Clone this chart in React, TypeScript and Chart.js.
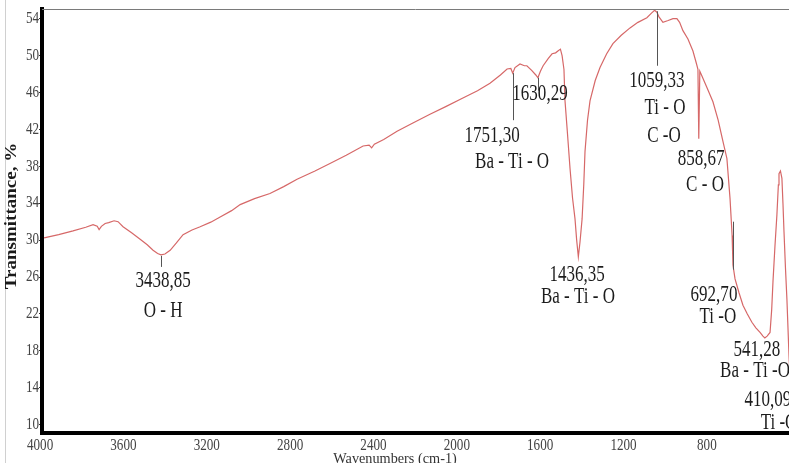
import { useEffect, useRef } from 'react';
import { Chart, registerables } from 'chart.js';

Chart.register(...registerables);

// ---- Spectrum data (wavenumber cm-1, transmittance %) ----
const wavenumbers = [
  4000, 3930, 3861, 3800, 3765, 3745, 3736, 3725, 3707, 3690, 3664, 3645, 3621, 3580, 3539, 3505,
  3477, 3455, 3439, 3420, 3395, 3365, 3333, 3290, 3251, 3200, 3155, 3100, 3059, 2990, 2916, 2850,
  2786, 2700, 2628, 2550, 2469, 2440, 2428, 2415, 2370, 2306, 2230, 2148, 2070, 1990, 1920, 1860,
  1810, 1778, 1760, 1751, 1740, 1716, 1695, 1683, 1660, 1640, 1630, 1618, 1605, 1580, 1562, 1545,
  1534, 1522, 1514, 1505, 1500, 1488, 1476, 1464, 1452, 1444, 1436, 1428, 1418, 1410, 1404, 1392,
  1380, 1355, 1332, 1300, 1270, 1230, 1188, 1150, 1107, 1085, 1070, 1059, 1049, 1030, 1005, 982,
  963, 950, 934, 910, 886, 870, 862, 858, 853, 847, 820, 790, 765, 742, 723, 708,
  698, 694, 684, 665, 646, 625, 603, 584, 564, 550, 541, 530, 516, 508, 502, 492,
  483, 476, 473, 466, 459, 454, 449, 442, 435, 425, 415, 410,
];
const transmittance = [
  30.25, 30.6, 31.0, 31.4, 31.67, 31.5, 31.15, 31.5, 31.8, 31.9, 32.1, 32.0, 31.45, 30.8, 30.1, 29.5,
  28.9, 28.55, 28.4, 28.5, 28.9, 29.7, 30.6, 31.1, 31.45, 31.95, 32.5, 33.2, 33.85, 34.5, 35.05, 35.8,
  36.6, 37.5, 38.3, 39.2, 40.2, 40.3, 40.0, 40.4, 40.9, 41.8, 42.7, 43.65, 44.5, 45.4, 46.2, 47.0,
  47.9, 48.55, 48.6, 48.1, 48.7, 49.1, 48.9, 48.9, 48.4, 47.9, 47.6, 48.3, 48.9, 49.7, 50.2, 50.3,
  50.5, 50.7, 50.0, 48.5, 45.1, 41.5, 37.8, 34.6, 32.3, 30.0, 28.2, 29.8, 32.3, 36.0, 39.6, 43.0,
  45.1, 47.3, 48.7, 50.2, 51.3, 52.2, 53.0, 53.6, 54.1, 54.6, 54.9, 54.7, 54.2, 53.6, 53.8, 54.0,
  54.0, 53.6, 52.7, 51.8, 50.5, 49.2, 48.5, 41.0, 48.3, 48.0, 46.6, 45.0, 43.0, 40.7, 38.85, 34.5,
  30.5, 27.3, 25.8, 24.3, 22.95, 22.0, 21.1, 20.5, 20.0, 19.6, 19.4, 19.6, 20.0, 22.5, 25.45, 29.5,
  32.75, 36.0, 37.2, 37.5, 36.7, 34.0, 30.9, 27.0, 23.6, 17.5, 12.5, 11.0,
];

// ---- Axis ticks ----
const xTickValues = [4000, 3600, 3200, 2800, 2400, 2000, 1600, 1200, 800];
const yTickValues = [10, 14, 18, 22, 26, 30, 34, 38, 42, 46, 50, 54];

// ---- Peak marker lines: wavenumber, from %T, to %T ----
const markerWavenumbers = [3438.85, 1751.3, 1630.29, 1059.33, 692.7];
const markerFrom = [28.3, 48.1, 47.6, 54.8, 32.0];
const markerTo = [27.1, 43.0, 46.2, 48.9, 26.8];

// ---- Annotation texts anchored in data coordinates ----
const labelTexts = [
  '3438,85', 'O - H',
  '1751,30', 'Ba - Ti - O',
  '1630,29',
  '1059,33', 'Ti - O', 'C -O',
  '858,67', 'C - O',
  '1436,35', 'Ba - Ti - O',
  '692,70', 'Ti -O',
  '541,28', 'Ba - Ti -O',
  '410,09', 'Ti -O',
];
const labelWavenumbers = [
  3429, 3429, 1850, 1754, 1620, 1059, 1020, 1025, 847, 828, 1442, 1438, 785, 766, 579, 588, 526, 473,
];
const labelValues = [
  25.61, 22.36, 41.32, 38.51, 45.87, 47.28, 44.36, 41.32, 38.83, 36.02, 26.26, 23.88, 24.1, 21.71,
  18.14, 15.86, 12.72, 10.23,
];

const X_MIN = 425;
const X_MAX = 4010;
const Y_MIN = 9.1;
const Y_MAX = 55.05;

const SERIF = '"Liberation Serif", "Times New Roman", serif';

function drawCondensed(
  ctx: CanvasRenderingContext2D,
  text: string,
  x: number,
  y: number,
  font: string,
  scaleX: number,
  align: CanvasTextAlign,
  color: string
) {
  ctx.save();
  ctx.translate(x, y);
  ctx.scale(scaleX, 1);
  ctx.font = font;
  ctx.fillStyle = color;
  ctx.textAlign = align;
  ctx.textBaseline = 'middle';
  ctx.fillText(text, 0, 0);
  ctx.restore();
}

const decorPlugin = {
  id: 'ftirDecor',
  afterDatasetsDraw(chart: any) {
    const { ctx, chartArea } = chart;
    const xs = chart.scales.x;
    const ys = chart.scales.y;
    ctx.save();

    // faint outer frame line at far left
    ctx.strokeStyle = '#d0d0d0';
    ctx.lineWidth = 1;
    ctx.beginPath();
    ctx.moveTo(5.5, 0);
    ctx.lineTo(5.5, chart.height);
    ctx.stroke();

    // top frame line
    ctx.strokeStyle = '#7a7a7a';
    ctx.lineWidth = 1;
    ctx.beginPath();
    ctx.moveTo(chartArea.left, chartArea.top + 0.5);
    ctx.lineTo(chartArea.right, chartArea.top + 0.5);
    ctx.stroke();

    // peak marker lines
    ctx.strokeStyle = '#555';
    ctx.lineWidth = 1;
    markerWavenumbers.forEach((w, i) => {
      const px = Math.round(xs.getPixelForValue(w)) + 0.5;
      ctx.beginPath();
      ctx.moveTo(px, ys.getPixelForValue(markerFrom[i]));
      ctx.lineTo(px, ys.getPixelForValue(markerTo[i]));
      ctx.stroke();
    });

    // annotation texts
    labelTexts.forEach((t, i) => {
      drawCondensed(
        ctx,
        t,
        xs.getPixelForValue(labelWavenumbers[i]),
        ys.getPixelForValue(labelValues[i]),
        `23px ${SERIF}`,
        0.74,
        'center',
        '#1c1c1c'
      );
    });

    // y tick labels
    yTickValues.forEach((v) => {
      drawCondensed(ctx, String(v), 39, ys.getPixelForValue(v), `16px ${SERIF}`, 0.82, 'right', '#444');
    });

    // x tick labels
    xTickValues.forEach((v) => {
      drawCondensed(ctx, String(v), xs.getPixelForValue(v) - 4, 446, `16px ${SERIF}`, 0.82, 'center', '#444');
    });

    // x axis title
    drawCondensed(ctx, 'Wavenumbers (cm-1)', 395, 459, `15px ${SERIF}`, 0.95, 'center', '#333');

    // y axis title (rotated)
    ctx.save();
    ctx.translate(12, 216);
    ctx.rotate(-Math.PI / 2);
    ctx.scale(1, 0.85);
    ctx.font = `bold 19px ${SERIF}`;
    ctx.fillStyle = '#1a1a1a';
    ctx.textAlign = 'center';
    ctx.textBaseline = 'middle';
    ctx.fillText('Transmittance, %', 0, 0);
    ctx.restore();

    ctx.restore();
  },
};

export default function App() {
  const canvasRef = useRef<HTMLCanvasElement | null>(null);

  useEffect(() => {
    const canvas = canvasRef.current;
    if (!canvas) return;
    const chart = new Chart(canvas, {
      type: 'line',
      data: {
        datasets: [
          {
            data: wavenumbers.map((w, i) => ({ x: w, y: transmittance[i] })),
            borderColor: 'rgb(214, 104, 104)',
            borderWidth: 1.2,
            pointRadius: 0,
            tension: 0,
            fill: false,
          },
        ],
      },
      options: {
        animation: false,
        responsive: false,
        devicePixelRatio: 1,
        layout: { padding: { top: 9, right: 0, bottom: 0, left: 0 } },
        plugins: {
          legend: { display: false },
          tooltip: { enabled: false },
        },
        scales: {
          x: {
            type: 'linear',
            reverse: true,
            min: X_MIN,
            max: X_MAX,
            afterBuildTicks: (s: any) => {
              s.ticks = xTickValues.map((v) => ({ value: v }));
            },
            afterFit: (s: any) => {
              s.height = 30;
            },
            ticks: { display: false },
            grid: { display: false },
            border: { display: true, color: '#000', width: 4 },
          },
          y: {
            type: 'linear',
            min: Y_MIN,
            max: Y_MAX,
            afterBuildTicks: (s: any) => {
              s.ticks = yTickValues.map((v) => ({ value: v }));
            },
            afterFit: (s: any) => {
              s.width = 42;
            },
            ticks: { display: false },
            grid: {
              display: true,
              drawOnChartArea: false,
              drawTicks: true,
              tickLength: 3,
              color: '#333',
            },
            border: { display: true, color: '#000', width: 4 },
          },
        },
      },
      plugins: [decorPlugin],
    } as any);
    return () => chart.destroy();
  }, []);

  return (
    <div style={{ position: 'absolute', left: 0, top: 0, width: 789, height: 463, background: '#fff' }}>
      <canvas ref={canvasRef} width={789} height={463} />
    </div>
  );
}
